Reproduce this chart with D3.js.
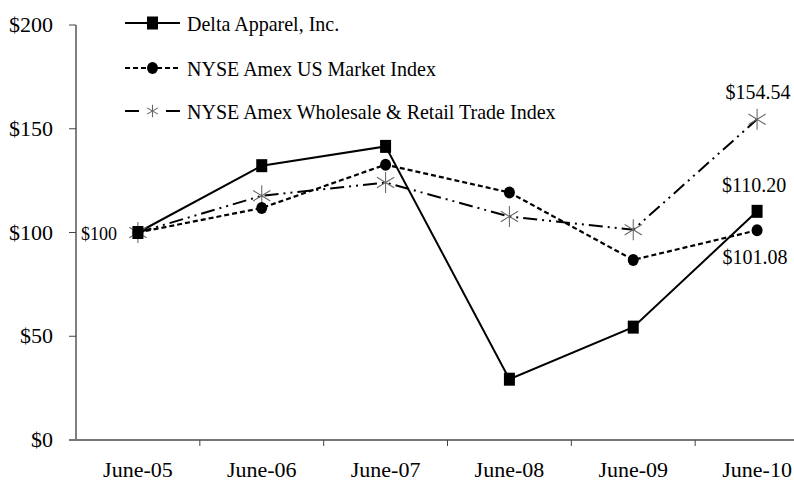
<!DOCTYPE html>
<html>
<head>
<meta charset="utf-8">
<script src="https://cdn.jsdelivr.net/npm/d3@7"></script>
<style>
  body { margin: 0; background: #fff; }
  text { font-family: "Liberation Serif", "Times New Roman", serif; fill: #000; }
</style>
</head>
<body>
<div id="chart"></div>
<script>
// data
var categories = ["June-05", "June-06", "June-07", "June-08", "June-09", "June-10"];
var delta  = [100, 132.2, 141.5, 29.3, 54.4, 110.20];
var market = [100, 111.8, 132.7, 119.3, 86.8, 101.08];
var trade  = [100, 117.7, 124.1, 107.7, 101.3, 154.54];
var yTicks = [0, 50, 100, 150, 200];
var seriesNames = ["Delta Apparel, Inc.", "NYSE Amex US Market Index", "NYSE Amex Wholesale & Retail Trade Index"];

var w = 794, h = 483;

var svg = d3.select("#chart").append("svg")
  .attr("width", w)
  .attr("height", h);

var x = d3.scaleBand().domain(categories).range([76, 819]).padding(0);
var y = d3.scaleLinear().domain([0, 200]).range([440, 25]);
var cx = function (c) { return x(c) + x.bandwidth() / 2; };

// y axis
svg.append("line")
  .attr("x1", 76).attr("x2", 76)
  .attr("y1", y(200)).attr("y2", y(0))
  .attr("stroke", "#000").attr("stroke-width", 1);

svg.selectAll(".ytick")
  .data(yTicks)
  .enter()
  .append("line")
  .attr("x1", 69).attr("x2", 76)
  .attr("y1", function (d) { return y(d); })
  .attr("y2", function (d) { return y(d); })
  .attr("stroke", "#444");

svg.selectAll(".ylab")
  .data(yTicks)
  .enter()
  .append("text")
  .attr("x", 53)
  .attr("y", function (d) { return y(d) + 7; })
  .attr("text-anchor", "end")
  .attr("font-size", 22)
  .text(function (d) { return "$" + d; });

// x axis
svg.append("line")
  .attr("x1", 69).attr("x2", w)
  .attr("y1", y(0)).attr("y2", y(0))
  .attr("stroke", "#777").attr("stroke-width", 2);

svg.selectAll(".xtick")
  .data(categories.slice(1))
  .enter()
  .append("line")
  .attr("x1", function (d) { return x(d); })
  .attr("x2", function (d) { return x(d); })
  .attr("y1", y(0)).attr("y2", y(0) + 6)
  .attr("stroke", "#444");

svg.selectAll(".xlab")
  .data(categories)
  .enter()
  .append("text")
  .attr("x", function (d) { return cx(d); })
  .attr("y", 477)
  .attr("text-anchor", "middle")
  .attr("font-size", 22)
  .text(function (d) { return d; });

// lines
var line = d3.line()
  .x(function (d, i) { return cx(categories[i]); })
  .y(function (d) { return y(d); });

svg.append("path").datum(trade)
  .attr("d", line).attr("fill", "none")
  .attr("stroke", "#000").attr("stroke-width", 2)
  .attr("stroke-dasharray", "14,5,2,5,2,5");

svg.append("path").datum(market)
  .attr("d", line).attr("fill", "none")
  .attr("stroke", "#000").attr("stroke-width", 2.2)
  .attr("stroke-dasharray", "5,3");

svg.append("path").datum(delta)
  .attr("d", line).attr("fill", "none")
  .attr("stroke", "#000").attr("stroke-width", 2);

// markers
var star = d3.symbol().type(d3.symbolAsterisk).size(310);

svg.selectAll(".star")
  .data(trade)
  .enter()
  .append("path")
  .attr("d", star)
  .attr("transform", function (d, i) { return "translate(" + cx(categories[i]) + "," + y(d) + ") scale(0.95,1)"; })
  .attr("fill", "none")
  .attr("stroke", "#666")
  .attr("stroke-width", 1.1);

svg.selectAll(".dot")
  .data(market)
  .enter()
  .append("ellipse")
  .attr("cx", function (d, i) { return cx(categories[i]); })
  .attr("cy", function (d) { return y(d); })
  .attr("rx", 5.5).attr("ry", 6)
  .attr("fill", "#000");

svg.selectAll(".sq")
  .data(delta)
  .enter()
  .append("rect")
  .attr("x", function (d, i) { return cx(categories[i]) - 5.5; })
  .attr("y", function (d) { return y(d) - 6.5; })
  .attr("width", 11).attr("height", 13)
  .attr("fill", "#000");

// value labels
svg.append("text")
  .attr("x", cx(categories[0]) - 39)
  .attr("y", y(delta[0]) + 7)
  .attr("text-anchor", "middle")
  .attr("font-size", 18)
  .text("$100");

svg.append("text")
  .attr("x", cx(categories[5]) + 1)
  .attr("y", y(trade[5]) - 20)
  .attr("text-anchor", "middle")
  .attr("font-size", 20)
  .text("$" + trade[5].toFixed(2));

svg.append("text")
  .attr("x", cx(categories[5]) - 3)
  .attr("y", y(delta[5]) - 19)
  .attr("text-anchor", "middle")
  .attr("font-size", 20)
  .text("$" + delta[5].toFixed(2));

svg.append("text")
  .attr("x", cx(categories[5]) - 2)
  .attr("y", y(market[5]) + 34)
  .attr("text-anchor", "middle")
  .attr("font-size", 20)
  .text("$" + market[5].toFixed(2));

// legend
var legendY = [23, 68, 111];
var lg = svg.append("g");

// Delta: solid with square
lg.append("line").attr("x1", 125).attr("x2", 180).attr("y1", legendY[0]).attr("y2", legendY[0])
  .attr("stroke", "#000").attr("stroke-width", 2);
lg.append("rect").attr("x", 147).attr("y", legendY[0] - 6.5).attr("width", 11).attr("height", 13).attr("fill", "#000");

// Market: dashed with circle
lg.append("line").attr("x1", 125).attr("x2", 180).attr("y1", legendY[1]).attr("y2", legendY[1])
  .attr("stroke", "#000").attr("stroke-width", 2.2).attr("stroke-dasharray", "5,3");
lg.append("ellipse").attr("cx", 152.5).attr("cy", legendY[1]).attr("rx", 5.5).attr("ry", 6).attr("fill", "#000");

// Trade: dashes with star
lg.append("line").attr("x1", 125).attr("x2", 139).attr("y1", legendY[2]).attr("y2", legendY[2])
  .attr("stroke", "#000").attr("stroke-width", 2);
lg.append("line").attr("x1", 166).attr("x2", 180).attr("y1", legendY[2]).attr("y2", legendY[2])
  .attr("stroke", "#000").attr("stroke-width", 2);
lg.append("path").attr("d", d3.symbol().type(d3.symbolAsterisk).size(110))
  .attr("transform", "translate(152.5," + legendY[2] + ")")
  .attr("fill", "none").attr("stroke", "#666").attr("stroke-width", 1.1);

lg.selectAll(".ltxt")
  .data(seriesNames)
  .enter()
  .append("text")
  .attr("transform", function (d, i) { return "translate(187," + (legendY[i] + 8) + ") scale(0.91,1)"; })
  .attr("font-size", 22)
  .text(function (d) { return d; });
</script>
</body>
</html>
